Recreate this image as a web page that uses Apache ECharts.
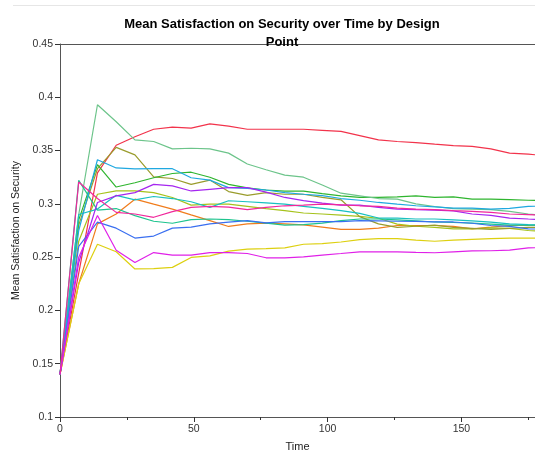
<!DOCTYPE html>
<html>
<head>
<meta charset="utf-8">
<script src="https://cdn.jsdelivr.net/npm/echarts@6/dist/echarts.min.js"></script>
<style>html,body{margin:0;padding:0;background:#fff}#c{width:535px;height:457px}</style>
</head>
<body>
<div id="c"></div>
<script>
const chartTitle = 'Mean Satisfaction on Security over Time by Design\nPoint';
const xName = 'Time';
const yName = 'Mean Satisfaction on Security';
const times = [0,7,14,21,28,35,42,49,56,63,70,77,84,91,98,105,112,119,126,133,140,147,154,161,168,175,182];

const red        = [0.14,0.235,0.329,0.355,0.363,0.370,0.372,0.371,0.375,0.373,0.370,0.370,0.370,0.370,0.369,0.368,0.364,0.360,0.3585,0.3575,0.356,0.3547,0.354,0.3516,0.3476,0.3467,0.345];
const orange     = [0.14,0.225,0.2812,0.2905,0.3044,0.2997,0.2951,0.2896,0.2843,0.2788,0.2812,0.282,0.2812,0.2803,0.2781,0.276,0.276,0.2772,0.2797,0.2797,0.2797,0.2788,0.2766,0.2781,0.2797,0.2797,0.280];
const yellow     = [0.14,0.225,0.2621,0.255,0.2389,0.2392,0.2404,0.2497,0.2512,0.2556,0.2575,0.258,0.2587,0.2621,0.2627,0.2642,0.2664,0.2673,0.2673,0.266,0.2649,0.266,0.2667,0.2673,0.2679,0.2679,0.268];
const yellowGreen= [0.14,0.265,0.309,0.3121,0.3121,0.3106,0.306,0.2988,0.2997,0.2997,0.2976,0.2955,0.2936,0.2914,0.2905,0.2895,0.2883,0.2865,0.281,0.279,0.278,0.2766,0.2766,0.2775,0.277,0.275,0.274];
const olive      = [0.14,0.28,0.333,0.353,0.346,0.3254,0.3238,0.3183,0.3223,0.3115,0.308,0.3105,0.309,0.309,0.306,0.3038,0.288,0.2812,0.278,0.279,0.280,0.278,0.277,0.276,0.277,0.278,0.278];
const green      = [0.14,0.285,0.3368,0.3158,0.3198,0.3245,0.3285,0.3297,0.325,0.3183,0.315,0.313,0.312,0.312,0.3096,0.3075,0.306,0.306,0.3066,0.3075,0.306,0.3066,0.3044,0.3044,0.304,0.3034,0.303];
const lightGreen = [0.14,0.29,0.393,0.377,0.360,0.3585,0.3516,0.3522,0.3516,0.3476,0.3374,0.332,0.327,0.325,0.3177,0.310,0.3075,0.305,0.3044,0.300,0.2975,0.2955,0.295,0.2945,0.293,0.2905,0.289];
const seaGreen   = [0.14,0.322,0.2941,0.2956,0.289,0.2837,0.2818,0.2852,0.2858,0.2852,0.2837,0.282,0.280,0.2805,0.282,0.2843,0.2858,0.2858,0.285,0.284,0.283,0.2825,0.282,0.281,0.280,0.280,0.280];
const cyan       = [0.14,0.29,0.2951,0.308,0.3038,0.3069,0.305,0.302,0.2967,0.3029,0.302,0.301,0.2997,0.2977,0.2957,0.2936,0.2911,0.2867,0.2867,0.2858,0.2858,0.2849,0.284,0.2828,0.2812,0.2805,0.280];
const skyBlue    = [0.14,0.275,0.3414,0.3337,0.3328,0.333,0.333,0.3245,0.3223,0.3152,0.3146,0.313,0.3106,0.309,0.3077,0.305,0.3034,0.3013,0.2997,0.2982,0.2972,0.296,0.296,0.2951,0.2957,0.2976,0.298];
const blue       = [0.14,0.26,0.2828,0.2772,0.2679,0.2698,0.2772,0.2781,0.2812,0.2828,0.2843,0.2821,0.2834,0.2834,0.2834,0.2834,0.2843,0.284,0.2837,0.2835,0.283,0.283,0.2818,0.2797,0.2788,0.2766,0.276];
const purple     = [0.14,0.245,0.3013,0.3075,0.3105,0.3183,0.3168,0.3121,0.3136,0.3152,0.3152,0.311,0.306,0.303,0.3006,0.2988,0.2988,0.2967,0.295,0.2945,0.2942,0.2935,0.2905,0.2892,0.2867,0.2858,0.285];
const magenta    = [0.14,0.25,0.289,0.2565,0.245,0.2543,0.2519,0.2519,0.2543,0.2543,0.2534,0.2494,0.2494,0.2503,0.2519,0.2534,0.255,0.255,0.255,0.2545,0.2541,0.255,0.2559,0.256,0.2565,0.2587,0.259];
const pink       = [0.14,0.3205,0.305,0.292,0.2905,0.2874,0.2927,0.2967,0.2976,0.297,0.2945,0.2967,0.2982,0.2988,0.2997,0.299,0.2982,0.2976,0.296,0.2951,0.2945,0.2936,0.293,0.292,0.2905,0.2899,0.289];

const lines = [
  ['red', red, '#f2334b'],
  ['orange', orange, '#f07c1c'],
  ['yellow', yellow, '#ddd010'],
  ['yellowGreen', yellowGreen, '#a6c21c'],
  ['olive', olive, '#9a9c2c'],
  ['green', green, '#2fb52f'],
  ['lightGreen', lightGreen, '#6cc48a'],
  ['seaGreen', seaGreen, '#1ec48e'],
  ['cyan', cyan, '#18c0c0'],
  ['skyBlue', skyBlue, '#1fa8e0'],
  ['blue', blue, '#3a6ff0'],
  ['purple', purple, '#a526f0'],
  ['magenta', magenta, '#e020e8'],
  ['pink', pink, '#f0289c']
];

const axisColor = '#555';
const chart = echarts.init(document.getElementById('c'), null, {renderer: 'canvas'});
chart.setOption({
  animation: false,
  backgroundColor: '#fff',
  title: {
    text: chartTitle,
    left: 277, textAlign: 'center', top: 10,
    textStyle: {fontFamily: 'Liberation Sans', fontSize: 13, fontWeight: 'bold', color: '#000', lineHeight: 18}
  },
  graphic: [{type: 'line', shape: {x1: 13, y1: 5.5, x2: 535, y2: 5.5}, style: {stroke: '#e6e6e6', lineWidth: 1}}],
  grid: {left: 60, right: 0, top: 44, bottom: 34},
  xAxis: [
    {
      type: 'value', min: 0, max: 177.5, interval: 50, position: 'bottom',
      name: xName, nameLocation: 'middle', nameGap: 24,
      nameTextStyle: {fontFamily: 'Liberation Sans', fontSize: 11, color: '#222'},
      axisLine: {show: true, lineStyle: {color: axisColor, width: 1}},
      axisTick: {show: true, length: 5, lineStyle: {color: '#333'}},
      axisLabel: {fontFamily: 'Liberation Sans', fontSize: 10.5, color: '#333', margin: 7, showMaxLabel: false},
      splitLine: {show: false}
    },
    {
      type: 'value', min: 0, max: 177.5, interval: 25, position: 'bottom',
      axisLine: {show: false},
      axisTick: {show: true, length: 3, lineStyle: {color: '#333'}},
      axisLabel: {show: false},
      splitLine: {show: false}
    },
    {
      type: 'value', min: 0, max: 177.5, position: 'top',
      axisLine: {show: true, lineStyle: {color: axisColor, width: 1}},
      axisTick: {show: false}, axisLabel: {show: false}, splitLine: {show: false}
    }
  ],
  yAxis: {
    type: 'value', min: 0.1, max: 0.45, interval: 0.05,
    name: yName, nameLocation: 'middle', nameGap: 33, nameRotate: 90,
    nameTextStyle: {fontFamily: 'Liberation Sans', fontSize: 10.5, color: '#222'},
    axisLine: {show: true, lineStyle: {color: axisColor, width: 1}},
    axisTick: {show: true, length: 5, lineStyle: {color: '#333'}},
    axisLabel: {fontFamily: 'Liberation Sans', fontSize: 10.5, color: '#333', margin: 7,
      formatter: v => String(Math.round(v * 100) / 100)},
    splitLine: {show: false}
  },
  series: lines.map(([name, vals, color]) => ({
    name, type: 'line', xAxisIndex: 0, showSymbol: false, symbol: 'none',
    data: times.map((t, i) => [t, vals[i]]),
    lineStyle: {color, width: 1.2}, itemStyle: {color}, clip: true
  }))
});
</script>
</body>
</html>
